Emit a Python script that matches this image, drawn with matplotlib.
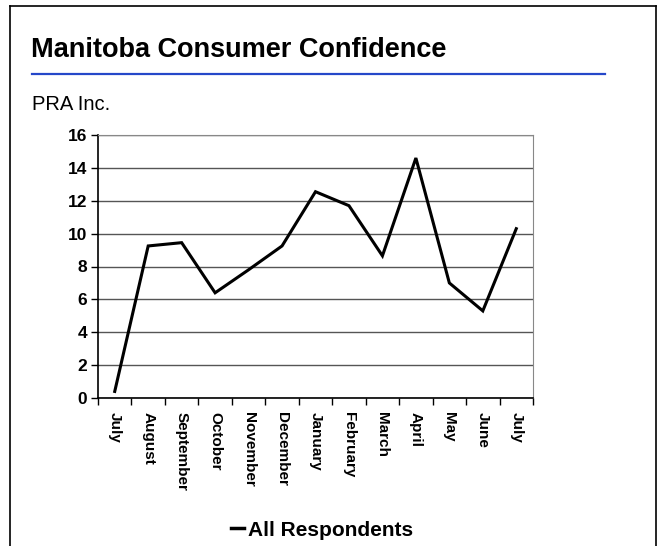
import numpy as np
import matplotlib.pyplot as plt
from matplotlib.lines import Line2D

months = ["July", "August", "September", "October", "November", "December",
          "January", "February", "March", "April", "May", "June", "July"]
values = [0.4, 9.25, 9.45, 6.4, 7.8, 9.25, 12.55, 11.7, 8.65, 14.6, 7.0, 5.3, 10.3]
yticks = [0, 2, 4, 6, 8, 10, 12, 14, 16]

plt.rcParams['font.family'] = ['Liberation Sans', 'DejaVu Sans']

fig = plt.figure(figsize=(6.65, 5.46), dpi=100)

# slide frame
fig.add_artist(Line2D([10/665, 10/665], [0, 1 - 6/546], color='black', lw=1.2))
fig.add_artist(Line2D([10/665, 656/665], [1 - 6/546, 1 - 6/546], color='black', lw=1.2))
fig.add_artist(Line2D([656/665, 656/665], [0, 1 - 6/546], color='black', lw=1.2))

# title and rule
fig.text(31/665, 1 - 50/546, "Manitoba Consumer Confidence", fontsize=19.5,
         fontweight='bold', va='center', ha='left')
fig.add_artist(Line2D([32/665, 605/665], [1 - 74/546, 1 - 74/546],
                      color='#2547c9', lw=1.6))
fig.text(32/665, 1 - 105/546, "PRA Inc.", fontsize=14.5, va='center', ha='left')

ax = fig.add_axes([98/665, 1 - 398/546, 435/665, 263/546])
x = np.arange(len(months))
ax.plot(x, values, color='black', lw=2.2, solid_joinstyle='miter')

ax.set_xlim(-0.5, len(months) - 0.5)
ax.set_ylim(0, 16)
ax.set_yticks(yticks)
ax.set_yticklabels([str(v) for v in yticks], fontsize=12.5, fontweight='bold')
ax.yaxis.grid(True, color='#555555', lw=1.0)
ax.set_axisbelow(True)

ax.set_xticks(x)
ax.set_xticklabels(months, rotation=270, fontsize=11, fontweight='bold')
ax.tick_params(axis='x', which='major', length=0, pad=10)
ax.set_xticks(np.arange(-0.5, len(months)), minor=True)
ax.tick_params(axis='x', which='minor', length=5, width=1, color='black')
ax.tick_params(axis='y', length=5, width=1, pad=3)

for s in ['top', 'right']:
    ax.spines[s].set_color('#888888')
for s in ['left', 'bottom']:
    ax.spines[s].set_color('black')
    ax.spines[s].set_linewidth(1.2)

handle = Line2D([], [], color='black', lw=2.5)
fig.legend([handle], ["All Respondents"], loc='center', bbox_to_anchor=(322/665, 1 - 530/546),
           frameon=False, handlelength=0.6, handletextpad=0.2,
           prop={'weight': 'bold', 'size': 15})

fig.savefig("out.png", dpi=100)
